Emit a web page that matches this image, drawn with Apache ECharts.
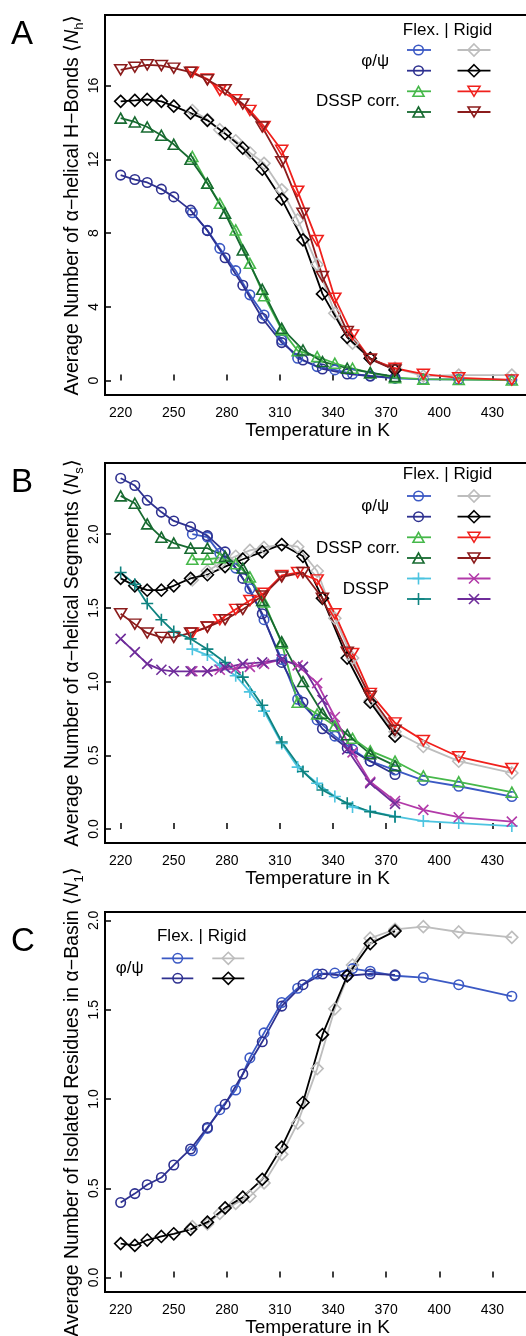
<!DOCTYPE html>
<html>
<head>
<meta charset="utf-8">
<script src="https://cdn.jsdelivr.net/npm/echarts@6/dist/echarts.min.js"></script>
<style>html,body{margin:0;padding:0;background:#fff}#c{width:526px;height:1336px}</style>
</head>
<body>
<div id="c"></div>
<script>
// ---------- temperatures (K) ----------
const T_SET1 = [260.5, 269, 276, 285, 293, 301, 311, 320, 331, 341, 351, 361, 375, 391, 411, 441];
const T_SET2 = [220, 228, 235, 243, 250, 259.5, 269, 279, 289, 300, 311, 323, 334, 348, 361, 375];
const X_TICKS = [220, 250, 280, 310, 340, 370, 400, 430];

// ---------- Panel A : <N_h> ----------
const A_TICKS = [0, 4, 8, 12, 16];
const A_flexPhi1  = [9.1, 8.15, 7.17, 5.96, 4.65, 3.56, 2.2, 1.21, 0.76, 0.58, 0.36, 0.25, 0.12, 0.07, 0.07, 0.04];
const A_flexPhi2  = [11.14, 10.9, 10.74, 10.38, 9.96, 9.24, 8.13, 6.66, 5.17, 3.38, 2.06, 1.12, 0.63, 0.36, 0.25, 0.16];
const A_rigidPhi1 = [14.64, 14.15, 13.6, 13.0, 12.35, 11.78, 10.34, 8.71, 6.3, 3.65, 2.03, 1.2, 0.67, 0.25, 0.3, 0.3];
const A_rigidPhi2 = [15.14, 15.19, 15.24, 15.14, 14.88, 14.5, 14.11, 13.39, 12.61, 11.46, 9.84, 7.63, 4.7, 2.35, 1.21, 0.58];
const A_flexCorr1 = [12.15, 10.7, 9.61, 8.17, 6.36, 4.6, 2.75, 1.62, 1.3, 0.94, 0.67, 0.43, 0.16, 0.08, 0.06, 0.03];
const A_flexCorr2 = [14.23, 14.02, 13.75, 13.3, 12.81, 12.0, 10.7, 9.07, 7.08, 4.95, 2.84, 1.66, 1.03, 0.67, 0.43, 0.22];
const A_rigidCorr1 = [16.72, 16.35, 15.73, 15.23, 14.65, 13.78, 12.49, 10.27, 7.59, 4.47, 2.48, 1.16, 0.67, 0.35, 0.15, 0.04];
const A_rigidCorr2 = [16.85, 16.99, 17.12, 17.08, 16.94, 16.72, 16.31, 15.77, 15.0, 13.75, 11.86, 9.07, 5.64, 2.66, 1.16, 0.58];

// ---------- Panel B : <N_s> ----------
const B_TICKS = [0, 0.5, 1, 1.5, 2];
const B_flexPhi1  = [2.0, 1.98, 1.87, 1.77, 1.63, 1.42, 1.15, 0.88, 0.74, 0.63, 0.54, 0.46, 0.40, 0.33, 0.29, 0.22];
const B_flexPhi2  = [2.38, 2.33, 2.23, 2.15, 2.09, 2.05, 1.99, 1.88, 1.70, 1.46, 1.13, 0.86, 0.68, 0.55, 0.46, 0.37];
const B_rigidPhi1 = [1.69, 1.75, 1.80, 1.85, 1.89, 1.91, 1.93, 1.915, 1.75, 1.43, 1.16, 0.87, 0.66, 0.56, 0.46, 0.38];
const B_rigidPhi2 = [1.70, 1.65, 1.62, 1.62, 1.65, 1.70, 1.725, 1.78, 1.83, 1.88, 1.93, 1.85, 1.565, 1.16, 0.86, 0.63];
const B_flexCorr1 = [1.83, 1.83, 1.84, 1.80, 1.71, 1.54, 1.26, 0.86, 0.78, 0.70, 0.615, 0.53, 0.46, 0.36, 0.32, 0.25];
const B_flexCorr2 = [2.26, 2.21, 2.07, 1.98, 1.94, 1.905, 1.905, 1.85, 1.77, 1.55, 1.27, 1.0, 0.785, 0.64, 0.51, 0.43];
const B_rigidCorr1 = [1.33, 1.37, 1.42, 1.49, 1.55, 1.60, 1.72, 1.74, 1.69, 1.46, 1.19, 0.92, 0.72, 0.60, 0.49, 0.41];
const B_rigidCorr2 = [1.46, 1.39, 1.33, 1.30, 1.30, 1.33, 1.37, 1.42, 1.49, 1.58, 1.71, 1.74, 1.565, 1.20, 0.90, 0.67];
const B_flexDssp1 = [1.22, 1.18, 1.11, 1.04, 0.93, 0.80, 0.58, 0.42, 0.31, 0.22, 0.15, 0.12, 0.085, 0.054, 0.04, 0.02];
const B_flexDssp2 = [1.74, 1.66, 1.53, 1.42, 1.34, 1.29, 1.22, 1.13, 1.03, 0.84, 0.59, 0.39, 0.265, 0.174, 0.117, 0.083];
const B_rigidDssp1 = [1.07, 1.07, 1.08, 1.09, 1.10, 1.12, 1.15, 1.11, 0.99, 0.76, 0.52, 0.32, 0.19, 0.13, 0.08, 0.05];
const B_rigidDssp2 = [1.29, 1.20, 1.12, 1.08, 1.07, 1.07, 1.07, 1.095, 1.12, 1.13, 1.15, 1.10, 0.875, 0.54, 0.31, 0.17];

// ---------- Panel C : <N_1> ----------
const C_TICKS = [0, 0.5, 1, 1.5, 2];
const C_flexPhi1  = [0.71, 0.835, 0.94, 1.05, 1.23, 1.37, 1.54, 1.62, 1.70, 1.705, 1.73, 1.715, 1.69, 1.68, 1.64, 1.575];
const C_flexPhi2  = [0.42, 0.47, 0.52, 0.56, 0.63, 0.72, 0.84, 0.97, 1.14, 1.32, 1.52, 1.64, 1.70, 1.69, 1.70, 1.695];
const C_rigidPhi1 = [0.285, 0.30, 0.36, 0.415, 0.455, 0.53, 0.69, 0.865, 1.17, 1.505, 1.75, 1.90, 1.95, 1.965, 1.935, 1.905];
const C_rigidPhi2 = [0.19, 0.18, 0.21, 0.23, 0.245, 0.27, 0.31, 0.39, 0.45, 0.55, 0.73, 0.98, 1.36, 1.69, 1.87, 1.94];

// ---------- styling ----------
const FONT = '"Liberation Sans", Arial, Helvetica, sans-serif';
const COL = {
  lightBlue: '#3b59c4', navy: '#2e3190', gray: '#bdbdbd', black: '#000000',
  lightGreen: '#46b84a', darkGreen: '#176a30', red: '#f0201c', darkRed: '#8b1c1c',
  cyan: '#4cc4e0', teal: '#0f8380', magenta: '#b23aa9', purple: '#6e2c9a'
};
const SYM = {
  circle: { s: 'circle', size: 9.5 },
  diamond: { s: 'diamond', size: 12 },
  up: { s: 'triangle', size: [11, 10] },
  down: { s: 'path://M0,0L10,0L5,8.66Z', size: [12, 10] },
  plus: { s: 'path://M5,0L5,10M0,5L10,5', size: 12 },
  cross: { s: 'path://M0,0L10,10M10,0L0,10', size: 10 }
};
const X_MIN = 211.15, X_MAX = 211.15 + 425 / 1.77;

function mk(name, g, temps, vals, color, sym) {
  return {
    type: 'line', name: name, xAxisIndex: g, yAxisIndex: g,
    data: temps.map((t, i) => [t, vals[i]]),
    symbol: SYM[sym].s, symbolSize: SYM[sym].size, showAllSymbol: true,
    lineStyle: { color: color, width: 1.8 },
    itemStyle: { color: 'rgba(0,0,0,0)', borderColor: color, borderWidth: 1.6 },
    emphasis: { disabled: true }, silent: true, animation: false
  };
}

const series = [
  // A
  mk('A φ/ψ flex 1', 0, T_SET1, A_flexPhi1, COL.lightBlue, 'circle'),
  mk('A φ/ψ flex 2', 0, T_SET2, A_flexPhi2, COL.navy, 'circle'),
  mk('A φ/ψ rigid 1', 0, T_SET1, A_rigidPhi1, COL.gray, 'diamond'),
  mk('A φ/ψ rigid 2', 0, T_SET2, A_rigidPhi2, COL.black, 'diamond'),
  mk('A DSSP corr. flex 1', 0, T_SET1, A_flexCorr1, COL.lightGreen, 'up'),
  mk('A DSSP corr. flex 2', 0, T_SET2, A_flexCorr2, COL.darkGreen, 'up'),
  mk('A DSSP corr. rigid 1', 0, T_SET1, A_rigidCorr1, COL.red, 'down'),
  mk('A DSSP corr. rigid 2', 0, T_SET2, A_rigidCorr2, COL.darkRed, 'down'),
  // B
  mk('B φ/ψ flex 1', 1, T_SET1, B_flexPhi1, COL.lightBlue, 'circle'),
  mk('B φ/ψ flex 2', 1, T_SET2, B_flexPhi2, COL.navy, 'circle'),
  mk('B φ/ψ rigid 1', 1, T_SET1, B_rigidPhi1, COL.gray, 'diamond'),
  mk('B φ/ψ rigid 2', 1, T_SET2, B_rigidPhi2, COL.black, 'diamond'),
  mk('B DSSP corr. flex 1', 1, T_SET1, B_flexCorr1, COL.lightGreen, 'up'),
  mk('B DSSP corr. flex 2', 1, T_SET2, B_flexCorr2, COL.darkGreen, 'up'),
  mk('B DSSP corr. rigid 1', 1, T_SET1, B_rigidCorr1, COL.red, 'down'),
  mk('B DSSP corr. rigid 2', 1, T_SET2, B_rigidCorr2, COL.darkRed, 'down'),
  mk('B DSSP flex 1', 1, T_SET1, B_flexDssp1, COL.cyan, 'plus'),
  mk('B DSSP flex 2', 1, T_SET2, B_flexDssp2, COL.teal, 'plus'),
  mk('B DSSP rigid 1', 1, T_SET1, B_rigidDssp1, COL.magenta, 'cross'),
  mk('B DSSP rigid 2', 1, T_SET2, B_rigidDssp2, COL.purple, 'cross'),
  // C
  mk('C φ/ψ flex 1', 2, T_SET1, C_flexPhi1, COL.lightBlue, 'circle'),
  mk('C φ/ψ flex 2', 2, T_SET2, C_flexPhi2, COL.navy, 'circle'),
  mk('C φ/ψ rigid 1', 2, T_SET1, C_rigidPhi1, COL.gray, 'diamond'),
  mk('C φ/ψ rigid 2', 2, T_SET2, C_rigidPhi2, COL.black, 'diamond')
];

const GRID_TOPS = [15, 463, 912];
const grids = GRID_TOPS.map(t => ({
  left: 105, top: t, width: 425, height: 380, show: true,
  borderColor: '#000', borderWidth: 2, backgroundColor: 'transparent',
  containLabel: false, outerBoundsMode: 'none'
}));

function xAx(i) {
  return {
    type: 'value', gridIndex: i, min: X_MIN, max: X_MAX,
    axisLine: { show: false },
    axisTick: { show: true, inside: true, length: 6, lineStyle: { color: '#000', width: 1.5 }, customValues: X_TICKS },
    axisLabel: { customValues: X_TICKS, fontSize: 14, color: '#000', margin: 11, fontFamily: FONT },
    splitLine: { show: false },
    name: 'Temperature in K', nameLocation: 'middle', nameGap: 26, nameMoveOverlap: false,
    nameTextStyle: { fontSize: 19, color: '#000', fontFamily: FONT }
  };
}
const richName = {
  i: { fontStyle: 'italic', fontSize: 19.5, fontFamily: FONT, color: '#000', lineHeight: 26 },
  s: { fontSize: 13, fontFamily: FONT, color: '#000', verticalAlign: 'bottom', lineHeight: 13 }
};
function yAx(i, min, max, ticks, fmt, name) {
  return {
    type: 'value', gridIndex: i, min: min, max: max,
    axisLine: { show: false },
    axisTick: { show: true, inside: true, length: 6, lineStyle: { color: '#000', width: 1.5 }, customValues: ticks },
    axisLabel: { customValues: ticks, fontSize: 14, color: '#000', margin: 4, rotate: 90, fontFamily: FONT, formatter: fmt },
    splitLine: { show: false },
    name: name, nameLocation: 'middle', nameGap: 19, nameRotate: 90, nameMoveOverlap: false,
    nameTextStyle: { fontSize: 19.5, color: '#000', fontFamily: FONT, lineHeight: 26, rich: richName }
  };
}

// ---------- legend (drawn as graphics) ----------
const graphics = [];
function txt(x, y, s, size, align) {
  graphics.push({ type: 'text', x: x, y: y, silent: true,
    style: { text: s, fontSize: size, fontFamily: FONT, fill: '#000', align: align || 'left', verticalAlign: 'middle' } });
}
function legSym(kind, cx, cy, color) {
  const st = { fill: 'none', stroke: color, lineWidth: 1.6 };
  if (kind === 'circle') graphics.push({ type: 'circle', silent: true, shape: { cx: cx, cy: cy, r: 4.75 }, style: st });
  else if (kind === 'diamond') graphics.push({ type: 'polygon', silent: true, shape: { points: [[cx, cy - 6], [cx + 6, cy], [cx, cy + 6], [cx - 6, cy]] }, style: st });
  else if (kind === 'up') graphics.push({ type: 'polygon', silent: true, shape: { points: [[cx, cy - 5], [cx + 5.5, cy + 5], [cx - 5.5, cy + 5]] }, style: st });
  else if (kind === 'down') graphics.push({ type: 'polygon', silent: true, shape: { points: [[cx - 6, cy - 5], [cx + 6, cy - 5], [cx, cy + 5]] }, style: st });
  else if (kind === 'plus') {
    graphics.push({ type: 'line', silent: true, shape: { x1: cx - 6, y1: cy, x2: cx + 6, y2: cy }, style: st });
    graphics.push({ type: 'line', silent: true, shape: { x1: cx, y1: cy - 6, x2: cx, y2: cy + 6 }, style: st });
  } else if (kind === 'cross') {
    graphics.push({ type: 'line', silent: true, shape: { x1: cx - 5, y1: cy - 5, x2: cx + 5, y2: cy + 5 }, style: st });
    graphics.push({ type: 'line', silent: true, shape: { x1: cx + 5, y1: cy - 5, x2: cx - 5, y2: cy + 5 }, style: st });
  }
}
function legItem(x1, x2, cx, cy, color, kind) {
  graphics.push({ type: 'line', silent: true, shape: { x1: x1, y1: cy, x2: x2, y2: cy }, style: { stroke: color, lineWidth: 1.8 } });
  legSym(kind, cx, cy, color);
}
function legRows(rows, fx, rx) {
  rows.forEach(r => {
    legItem(fx[0], fx[1], fx[2], r[0], r[1], r[2]);
    legItem(rx[0], rx[1], rx[2], r[0], r[3], r[4]);
  });
}
// Panel A legend
txt(447.5, 30, 'Flex. | Rigid', 17, 'center');
txt(389, 61, 'φ/ψ', 17, 'right');
txt(400, 101, 'DSSP corr.', 17, 'right');
legRows([
  [50, COL.lightBlue, 'circle', COL.gray, 'diamond'],
  [70.7, COL.navy, 'circle', COL.black, 'diamond'],
  [91.3, COL.lightGreen, 'up', COL.red, 'down'],
  [112, COL.darkGreen, 'up', COL.darkRed, 'down']
], [407, 431, 418.5], [457.5, 490.5, 474]);
// Panel B legend
txt(447.5, 474, 'Flex. | Rigid', 17, 'center');
txt(389, 506, 'φ/ψ', 17, 'right');
txt(400, 548, 'DSSP corr.', 17, 'right');
txt(389, 589, 'DSSP', 17, 'right');
legRows([
  [496, COL.lightBlue, 'circle', COL.gray, 'diamond'],
  [516.7, COL.navy, 'circle', COL.black, 'diamond'],
  [537.3, COL.lightGreen, 'up', COL.red, 'down'],
  [558, COL.darkGreen, 'up', COL.darkRed, 'down'],
  [578.5, COL.cyan, 'plus', COL.magenta, 'cross'],
  [599, COL.teal, 'plus', COL.purple, 'cross']
], [407, 431, 418.5], [457.5, 490.5, 474]);
// Panel C legend
txt(201.7, 936, 'Flex. | Rigid', 17, 'center');
txt(143.5, 968, 'φ/ψ', 17, 'right');
legRows([
  [958.3, COL.lightBlue, 'circle', COL.gray, 'diamond'],
  [978.3, COL.navy, 'circle', COL.black, 'diamond']
], [161.7, 193.3, 177.7], [212.3, 244.3, 228.3]);
// panel letters
txt(11, 35, 'A', 33, 'left');
txt(11, 483, 'B', 33, 'left');
txt(11, 942, 'C', 33, 'left');

const f1 = v => v.toFixed(1);
const option = {
  backgroundColor: '#fff',
  animation: false,
  textStyle: { fontFamily: FONT },
  grid: grids,
  xAxis: [xAx(0), xAx(1), xAx(2)],
  yAxis: [
    yAx(0, -0.78, 19.82, A_TICKS, v => String(v), 'Average Number of α−helical H−Bonds ⟨{i|N}{s|h}⟩'),
    yAx(1, -0.095, 2.483, B_TICKS, f1, 'Average Number of α−helical Segments ⟨{i|N}{s|s}⟩'),
    yAx(2, -0.081, 2.047, C_TICKS, f1, 'Average Number of Isolated Residues in α−Basin ⟨{i|N}{s|1}⟩')
  ],
  series: series,
  graphic: graphics
};
const chart = echarts.init(document.getElementById('c'), null, { renderer: 'canvas', width: 526, height: 1336 });
chart.setOption(option);
</script>
</body>
</html>
